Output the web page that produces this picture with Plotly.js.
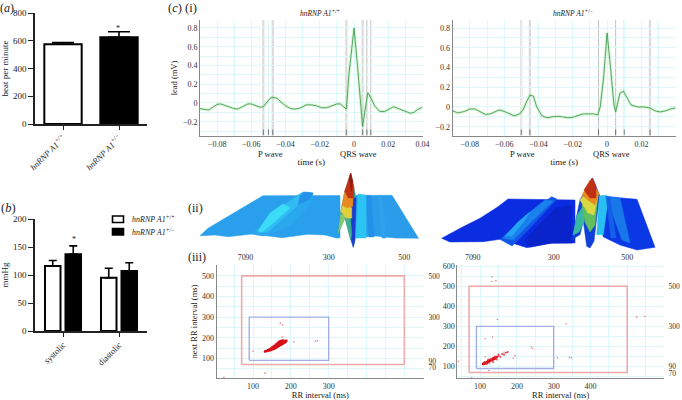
<!DOCTYPE html>
<html><head><meta charset="utf-8">
<script src="https://cdn.plot.ly/plotly-3.0.1.min.js"></script>
<style>html,body{margin:0;padding:0;background:#fff}</style></head>
<body><div id="chart" style="width:682px;height:400px"></div>
<script>
const F='Liberation Serif, Times New Roman, serif';
// (a) heart rate
const genotypes=['<i>hnRNP A1<sup>+/+</sup></i>','<i>hnRNP A1<sup>+/−</sup></i>'];
const beatValues=[575,625];
const beatErrors=[12,40];
// (b) blood pressure
const bpCategories=['systolic','diastolic'];
const bpWild=[116,95];
const bpWildErr=[10,17];
const bpHet=[137,107];
const bpHetErr=[15,15];
// (c-i) ECG
const ecgLT=[-0.09,-0.087,-0.085,-0.082,-0.08,-0.078,-0.075,-0.072,-0.07,-0.068,-0.065,-0.062,-0.06,-0.057,-0.055,-0.053,-0.051,-0.049,-0.0475,-0.045,-0.042,-0.04,-0.037,-0.034,-0.031,-0.028,-0.025,-0.022,-0.019,-0.016,-0.013,-0.01,-0.008,-0.006,-0.0045,-0.003,0,0.002,0.005,0.008,0.01,0.012,0.015,0.018,0.02,0.023,0.026,0.03,0.033,0.035,0.037,0.04];
const ecgLV=[-0.06,-0.065,-0.075,-0.04,-0.015,-0.01,-0.03,-0.05,-0.06,-0.065,-0.035,-0.01,-0.01,-0.03,-0.045,-0.04,0,0.05,0.06,0.05,0,-0.03,-0.06,-0.065,-0.05,-0.02,-0.02,-0.03,-0.05,-0.05,-0.03,-0.01,-0.01,-0.04,-0.065,0.3,0.8,0.4,-0.25,0.11,0.05,-0.03,-0.09,-0.09,-0.07,-0.04,-0.06,-0.09,-0.11,-0.1,-0.07,-0.045];
const ecgRT=[-0.09,-0.087,-0.083,-0.08,-0.077,-0.074,-0.071,-0.068,-0.065,-0.063,-0.06,-0.057,-0.054,-0.051,-0.049,-0.047,-0.045,-0.043,-0.041,-0.038,-0.035,-0.032,-0.029,-0.026,-0.023,-0.02,-0.017,-0.014,-0.011,-0.008,-0.0055,-0.004,-0.002,0,0.002,0.004,0.005,0.006,0.0075,0.0095,0.011,0.014,0.018,0.022,0.025,0.028,0.031,0.034,0.037,0.04];
const ecgRV=[-0.04,-0.06,-0.045,-0.02,-0.02,-0.05,-0.075,-0.07,-0.05,-0.03,-0.045,-0.07,-0.09,-0.07,-0.03,0.05,0.12,0.11,0,-0.09,-0.11,-0.1,-0.095,-0.1,-0.11,-0.105,-0.09,-0.07,-0.07,-0.07,-0.08,0,0.3,0.75,0.4,0.02,-0.05,0.02,0.14,0.16,0.11,0.02,0,0,-0.01,-0.04,-0.05,-0.04,-0.02,-0.01];
const ecgLThick=[-0.053,-0.0475,-0.0045,0.005];
const ecgLThin=[-0.05,0.0075,0.0098];
const ecgRThick=[-0.05,-0.045,0.025];
const ecgRThin=[-0.005,0.005,0.01];
const ecgXTicks=[-0.08,-0.06,-0.04,-0.02,0,0.02,0.04];
const ecgXText=['−0.08','−0.06','−0.04','−0.02','0','0.02','0.04'];
const ecgXGrid=[-0.09,-0.08,-0.07,-0.06,-0.05,-0.04,-0.03,-0.02,-0.01,0,0.01,0.02,0.03,0.04];
const ecgYTicks=[-0.2,0,0.2,0.4,0.6,0.8];
const ecgYText=['−0.2','0','0.2','0.4','0.6','0.8'];
const ecgYGrid=[-0.3,-0.2,-0.1,0,0.1,0.2,0.3,0.4,0.5,0.6,0.7,0.8];
// (c-ii) surface outlines
const surfaceLeftX=[
 [200,208,263,340,340,336,325,308,282,252,228,215,200],
 [356,392,418.5,395,375,356],
 [251.7,282,303,313,311,290,263],
 [258,280,300,308,290,268],
 [258,270,283,290,272,262],
 [300,305,313,310,298],
 [366,371,374,369],
 [378,382,386,382],
 [356,358,366,366,361,356],
 [350.7,356,355,353.3,350.7,345,338.3,340.7,344],
 [352.3,356,355,353.3,350],
 [338.3,340.7,344,345],
 [345,350,351.7,350.7],
 [340.7,344,351.7,351.7,346],
 [342,345.3,353.3,352.7,346.7],
 [344.7,350.7,354,353.3,348.3],
 [349.3,350.7,352.7,351.3]];
const surfaceLeftY=[
 [235.7,228.3,195.7,195.5,238,238,235,234.3,237.7,234,236.7,235,235.7],
 [195.5,195.3,238.3,238,236,238],
 [234,205,192,193,203,226,236],
 [232,208,194,196,212,232],
 [231,213,204,208,224,232],
 [196,192,193,199,205],
 [195.5,195.5,237,237],
 [195.5,195.5,238,238],
 [236,194,195,238,238,238],
 [173,198,239.7,247.3,239.7,218,233,211.3,194.7],
 [198,198,239.7,247.3,234.7],
 [233,214.7,214.7,218],
 [218,211.3,234.7,239.7],
 [211.3,201.3,208,218,218],
 [204.7,189.7,191.3,206.3,208],
 [191.3,173,188,198,198],
 [178,173,181.3,191.3]];
const surfaceLeftColors=['#2a9fec','#2a9cea','#2aa8ee','#30bcf2','#3adcf8','#2490ea','#2590e8','#2ea2ec','#2cc4f3','#2a9a8c','#1a3cd0','#8ac870','#40b090','#e0d040','#e88a20','#c43014','#8e1a10'];
const surfaceRightX=[
 [441.7,452,463,480,498,508,575,575,550,527,500,483,470,450],
 [599,637,655,637,620,603],
 [525,555,572,572,552,530],
 [500,540,551.7,557,530,512],
 [503,525,545,553,527,513],
 [505,518,530,522,512],
 [606,620,630,622],
 [571.7,575,580,592.7,600,596.7,594,590,586.7,583.3,580],
 [573,577,584,584,579],
 [582,598,595,590,585],
 [580,588,598,594,588,583],
 [582,590,599,595,588],
 [584,592,596,596,590],
 [596.7,599.3,606,608.3,603.3],
 [606,610,616,611]];
const surfaceRightY=[
 [238.3,232.3,226.7,218.3,206.7,199,200,243,243.3,247.7,239.3,241.7,242,242],
 [196,199.3,247.3,250,245,236.7],
 [240,208,205,243,243,247],
 [239.3,205,196.7,199,228,246],
 [238,216,200,201,226,240],
 [236,222,212,224,236],
 [196,198,243,240],
 [239.7,223,199.7,178,196.3,218,241.3,248,246.3,221.3,234.7],
 [235,215,205,222,232],
 [205,195,225,232,222],
 [200,190,195,215,213,205],
 [195,180,193,205,200],
 [190,178,186,198,198],
 [234.7,196,195.3,198,234.7],
 [196,198,238,238]];
const surfaceRightColors=['#0a2de2','#0a38e4','#0a24cc','#1258e8','#1a80ee','#22a4f2','#1878ea','#1040d8','#38b8a0','#60c060','#d8d840','#e88a20','#c03014','#28c0f0','#1560e8'];
// (c-iii) RR scatter
const rrLX=[132,136,140,140,144,145,148,149,152,153,155,156,158,159,160,161,163,163,165,166,167,168,170,170,172,173,175,175,178,178,181,180,184,185,188,168,172,176,160,165,170,175,180,150,155,163,170,177,183];
const rrLY=[133,136,140,137,143,139,147,142,150,145,153,147,156,150,161,152,165,155,168,158,172,160,175,163,177,165,178,168,180,170,181,174,183,178,185,178,182,184,165,172,178,182,186,152,158,168,170,176,178];
const rrLOutX=[23,172,178,177,208,265,270,100,132];
const rrLOutY=[8,271,262,203,180,183,185,135,28];
const rrRX=[108,110,112,114,116,118,120,122,124,126,128,130,132,134,136,138,140,142,145];
const rrRY=[112,114,116,118,116,122,120,126,125,130,129,134,133,138,136,142,140,145,147];
const rrRFaintX=[148,150,112,118,125,130,140,150,155,160,165,170,175,122,135,145];
const rrRFaintY=[150,152,122,112,118,138,150,160,148,162,158,168,172,135,122,135];
const rrROutX=[132,132,143,147,134,114,334,239,243,310,343,348,195,190,526,548,41,77,124,114,165];
const rrROutY=[547,524,527,334,247,239,313,197,191,143,146,143,154,141,346,349,126,44,80,148,171];
const redBoxX=[70,500,500,70,70];
const redBoxY=[70,70,500,500,70];
const blueBoxX=[90,300,300,90,90];
const blueBoxY=[90,90,300,300,90];
const rrGrid=[50,100,150,200,250,300,350,400,450,500,550,600];
const rrXTicksL=[100,200,300];
const rrXTicksR=[100,200,300,400];
const rrYTicksL=[100,200,300,400,500];
const rrYTicksR=[100,200,300,400,500,600];
const topTicks=[70,90,300,500];
const topText=['70','90','300','500'];
const sideTicksL=[56,87,300,500];
const sideTicksR=[67,98,300,500];
const sideText=['70','90','300','500'];

const W=682,H=400;
const dx=(a,b)=>[a/W,b/W], dy=(t,b)=>[1-b/H,1-t/H];
const tf=(s=8.5,c='#333')=>({family:F,size:s,color:c});
const grid='#dcf8f8';
const traces=[];
// (a)
traces.push({type:'bar',x:[0,1],y:beatValues,width:0.667,xaxis:'x',yaxis:'y',showlegend:false,
 marker:{color:['#fff','#000'],line:{color:'#000',width:2}},
 error_y:{type:'data',symmetric:false,array:beatErrors,arrayminus:[0,0],color:'#000',thickness:1.6,width:11}});
// (b)
traces.push({type:'bar',name:'wild type',x:[0,1],y:bpWild,xaxis:'x2',yaxis:'y2',showlegend:false,
 marker:{color:'#fff',line:{color:'#000',width:2}},
 error_y:{type:'data',symmetric:false,array:bpWildErr,arrayminus:[0,0],color:'#000',thickness:1.6,width:4}});
traces.push({type:'bar',name:'heterozygous',x:[0,1],y:bpHet,xaxis:'x2',yaxis:'y2',showlegend:false,
 marker:{color:'#000',line:{color:'#000',width:2}},
 error_y:{type:'data',symmetric:false,array:bpHetErr,arrayminus:[0,0],color:'#000',thickness:1.6,width:4}});
// ECG
function ecg(t,v,xa,ya){
 traces.push({type:'scatter',mode:'lines',x:t,y:v,xaxis:xa,yaxis:ya,showlegend:false,hoverinfo:'skip',line:{color:'rgba(130,225,130,0.3)',width:3}});
 traces.push({type:'scatter',mode:'lines',x:t,y:v,xaxis:xa,yaxis:ya,showlegend:false,line:{color:'#4a9c55',width:0.9}});
}
ecg(ecgLT,ecgLV,'x3','y3');
ecg(ecgRT,ecgRV,'x4','y4');
// surfaces
function surf(xs,ys,cs){xs.forEach((x,i)=>traces.push({type:'scatter',mode:'lines',x:[...x,x[0]],y:[...ys[i],ys[i][0]],fill:'toself',fillcolor:cs[i],
 line:{color:cs[i],width:0.5},xaxis:'x5',yaxis:'y5',showlegend:false,hoverinfo:'skip'}));}
surf(surfaceLeftX,surfaceLeftY,surfaceLeftColors);
surf(surfaceRightX,surfaceRightY,surfaceRightColors);
// RR
function rr(cx,cy,ox,oy,xa,ya,xb,yb){
 traces.push({type:'scatter',mode:'lines',x:redBoxX,y:redBoxY,xaxis:xa,yaxis:ya,showlegend:false,line:{color:'#eeaaaa',width:1.6}});
 traces.push({type:'scatter',mode:'lines',x:blueBoxX,y:blueBoxY,xaxis:xb,yaxis:yb,showlegend:false,line:{color:'#a4aee6',width:1.4}});
 traces.push({type:'scatter',mode:'markers',x:ox,y:oy,xaxis:xa,yaxis:ya,showlegend:false,marker:{color:'#e87a80',size:1.6}});
 traces.push({type:'scatter',mode:'markers',x:cx,y:cy,xaxis:xa,yaxis:ya,showlegend:false,marker:{color:'#d8101a',size:2.8}});
}
rr(rrLX,rrLY,rrLOutX,rrLOutY,'x6','y6','x7','y7');
rr(rrRX,rrRY,rrROutX,rrROutY,'x8','y8','x9','y9');
traces.push({type:'scatter',mode:'markers',x:rrRFaintX,y:rrRFaintY,xaxis:'x8',yaxis:'y8',showlegend:false,marker:{color:'#e4474f',size:2}});

function vmarks(thick,thin,xa,ya){
 const s=[];
 thick.forEach(t=>s.push({type:'line',xref:xa,yref:ya+' domain',x0:t,x1:t,y0:0,y1:1,line:{color:'#dcdcdc',width:2.2},layer:'below'}));
 thin.forEach(t=>s.push({type:'line',xref:xa,yref:ya+' domain',x0:t,x1:t,y0:0,y1:1,line:{color:'#c2c2c2',width:1},layer:'below'}));
 [...thick,...thin].forEach(t=>s.push({type:'line',xref:xa,yref:ya+' domain',x0:t,x1:t,y0:0.01,y1:0.055,line:{color:'#555',width:0.8}}));
 return s;
}
const barAxis=(dom,anchor)=>({domain:dom,anchor,range:[-0.5,1.5],tickmode:'array',tickvals:[0,1],tickangle:-45,tickfont:tf(8.5,'#222'),
 showline:true,linecolor:'#222',linewidth:1.5,ticks:'outside',ticklen:4,tickcolor:'#222',showgrid:false,zeroline:false});
const barY=(dom,anchor,range,dtick,title)=>({domain:dom,anchor,range,dtick,tickfont:tf(9,'#222'),showline:true,linecolor:'#222',linewidth:1.5,
 ticks:'outside',ticklen:5,tickcolor:'#222',showgrid:false,zeroline:false,title:{text:title,font:tf(9,'#222'),standoff:6}});
const minorGrid=vals=>({tickmode:'array',tickvals:vals,showgrid:true,gridcolor:grid,gridwidth:1,ticks:''});
const ecgX=(dom,anchor)=>({domain:dom,anchor,range:[-0.09,0.04],tickmode:'array',tickvals:ecgXTicks,ticktext:ecgXText,tickfont:tf(8,'#333'),
 showgrid:true,gridcolor:grid,gridwidth:1,minor:minorGrid(ecgXGrid),showline:true,linecolor:'#888',linewidth:1,zeroline:false,ticks:'',
 title:{text:'time (s)',font:tf(9,'#222'),standoff:11}});
const ecgY=(dom,anchor,range,title)=>({domain:dom,anchor,range,tickmode:'array',tickvals:ecgYTicks,ticktext:ecgYText,tickfont:tf(8,'#333'),
 showgrid:true,gridcolor:grid,gridwidth:1,minor:minorGrid(ecgYGrid),showline:true,linecolor:'#888',linewidth:1,zeroline:false,ticks:'',
 title:title?{text:title,font:tf(8.5,'#222'),standoff:3}:undefined});
const rrX=(dom,anchor,range,ticks,title)=>({domain:dom,anchor,range,tickmode:'array',tickvals:ticks,ticktext:ticks.map(String),tickfont:tf(8,'#333'),
 showgrid:true,gridcolor:grid,minor:minorGrid(rrGrid),showline:true,linecolor:'#888',zeroline:false,ticks:'',title:{text:title,font:tf(8.5,'#222'),standoff:2}});
const rrY=(dom,anchor,range,ticks,title)=>({domain:dom,anchor,range,tickmode:'array',tickvals:ticks,ticktext:ticks.map(String),tickfont:tf(8,'#333'),
 showgrid:true,gridcolor:grid,minor:minorGrid(rrGrid),showline:true,linecolor:'#888',zeroline:false,ticks:'',title:title?{text:title,font:tf(8.5,'#222'),standoff:3}:undefined});
const topX=(over,range,dom,anchor)=>({overlaying:over,side:'top',anchor,domain:dom,range,tickmode:'array',tickvals:topTicks,ticktext:topText,tickangle:0,
 tickfont:tf(8,'#333'),showgrid:false,zeroline:false,showline:false,ticks:'outside',ticklen:1,tickcolor:'rgba(0,0,0,0)'});
const rightY=(over,range,dom,anchor,vals)=>({overlaying:over,side:'right',anchor,domain:dom,range,tickmode:'array',tickvals:vals,ticktext:sideText,
 tickfont:tf(7.5,'#333'),showgrid:false,zeroline:false,showline:false,ticks:'outside',ticklen:2,tickcolor:'rgba(0,0,0,0)'});

const annot=(x,y,text,size=9,extra={})=>Object.assign({xref:'paper',yref:'paper',x:x/W,y:1-y/H,text,showarrow:false,font:{family:F,size,color:'#222'},xanchor:'center',yanchor:'middle'},extra);
const swatch=(y0,y1,fill)=>({type:'rect',xref:'paper',yref:'paper',x0:112.5/W,x1:123.5/W,y0:1-y1/H,y1:1-y0/H,fillcolor:fill,line:{color:'#000',width:1.6}});

const rrLdX=dx(216.7,424),rrLdY=dy(265,378),rrRdX=dx(457.3,664),rrRdY=dy(265,378.3);
const rrLxR=[4,552],rrLyR=[4.4,553],rrRxR=[38,600],rrRyR=[41,606];
const layout={width:W,height:H,margin:{l:0,r:0,t:0,b:0},paper_bgcolor:'#fff',plot_bgcolor:'rgba(0,0,0,0)',
 barmode:'group',bargap:0.268,bargroupgap:0.243,font:{family:F,size:9,color:'#222'},hovermode:false,showlegend:false,
 xaxis:Object.assign(barAxis(dx(35,147),'y'),{ticktext:genotypes}),
 yaxis:barY(dy(13,124),'x',[0,800],200,'beat per minute'),
 xaxis2:Object.assign(barAxis(dx(35,147),'y2'),{ticktext:bpCategories}),
 yaxis2:barY(dy(219,331),'x2',[0,200],50,'mmHg'),
 xaxis3:ecgX(dx(200,422.5),'y3'),
 yaxis3:ecgY(dy(20,136),'x3',[-0.352,0.885],'lead (mV)'),
 xaxis4:ecgX(dx(452.7,675.7),'y4'),
 yaxis4:ecgY(dy(20,136),'x4',[-0.294,0.881]),
 xaxis5:{domain:dx(170,682),anchor:'y5',range:[170,682],visible:false,fixedrange:true},
 yaxis5:{domain:dy(170,260),anchor:'x5',range:[260,170],visible:false,fixedrange:true},
 xaxis6:rrX(rrLdX,'y6',rrLxR,rrXTicksL,'RR interval (ms)'),
 yaxis6:rrY(rrLdY,'x6',rrLyR,rrYTicksL,'next RR interval (ms)'),
 xaxis7:topX('x6',rrLxR,rrLdX,'y7'),
 yaxis7:rightY('y6',rrLyR,rrLdY,'x7',sideTicksL),
 xaxis8:rrX(rrRdX,'y8',rrRxR,rrXTicksR,'RR interval (ms)'),
 yaxis8:rrY(rrRdY,'x8',rrRyR,rrYTicksR),
 xaxis9:topX('x8',rrRxR,rrRdX,'y9'),
 yaxis9:rightY('y8',rrRyR,rrRdY,'x9',sideTicksR),
 shapes:[...vmarks(ecgLThick,ecgLThin,'x3','y3'),...vmarks(ecgRThick,ecgRThin,'x4','y4'),swatch(216,222.5,'#fff'),swatch(228.5,235,'#000')],
 annotations:[
  annot(7,8,'(<i>a</i>)',12),annot(8,208,'(<i>b</i>)',12.5),annot(182,8,'(<i>c</i>) (i)',12.5),
  annot(195,208,'(ii)',12),annot(197,257,'(iii)',12),
  annot(118,28,'*',8),annot(74,239,'*',8),
  annot(320,13,'<i>hnRNP A1<sup>+/+</sup></i>',7.5),annot(573,13,'<i>hnRNP A1<sup>+/−</sup></i>',7.5),
  annot(270,154,'P wave',8.5),annot(358,154,'QRS wave',8.5),
  annot(522,154,'P wave',8.5),annot(611,154,'QRS wave',8.5),
  annot(130,219,'<i>hnRNP A1<sup>+/+</sup></i>',8,{xanchor:'left'}),annot(130,232,'<i>hnRNP A1<sup>+/−</sup></i>',8,{xanchor:'left'})
 ]};
Plotly.newPlot('chart',traces,layout,{displayModeBar:false,responsive:false});
</script></body></html>
